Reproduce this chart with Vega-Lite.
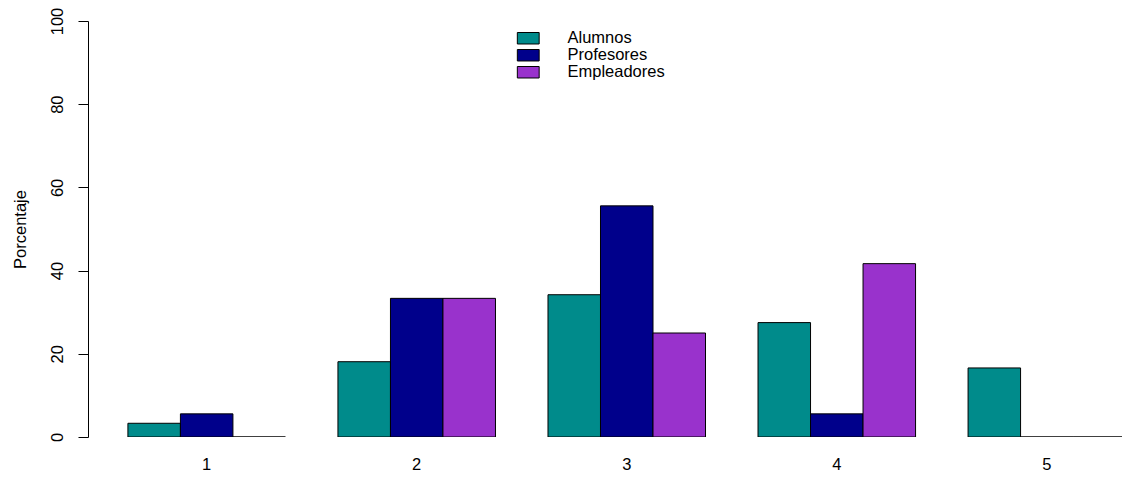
{
  "$schema": "https://vega.github.io/schema/vega-lite/v6.json",
  "width": 1034,
  "height": 416,
  "autosize": {"type": "none"},
  "padding": {"left": 88, "top": 21, "right": 0, "bottom": 47},
  "background": "white",
  "config": {
    "view": {"stroke": null},
    "font": "Liberation Sans",
    "axis": {"labelFont": "Liberation Sans", "titleFont": "Liberation Sans", "labelColor": "black", "titleColor": "black"},
    "legend": {"labelFont": "Liberation Sans"}
  },
  "data": {
    "values": [
      {"grupo": "1", "serie": "Alumnos", "porcentaje": 3.3},
      {"grupo": "1", "serie": "Profesores", "porcentaje": 5.56},
      {"grupo": "1", "serie": "Empleadores", "porcentaje": 0},
      {"grupo": "2", "serie": "Alumnos", "porcentaje": 18.1},
      {"grupo": "2", "serie": "Profesores", "porcentaje": 33.33},
      {"grupo": "2", "serie": "Empleadores", "porcentaje": 33.33},
      {"grupo": "3", "serie": "Alumnos", "porcentaje": 34.2},
      {"grupo": "3", "serie": "Profesores", "porcentaje": 55.56},
      {"grupo": "3", "serie": "Empleadores", "porcentaje": 25},
      {"grupo": "4", "serie": "Alumnos", "porcentaje": 27.5},
      {"grupo": "4", "serie": "Profesores", "porcentaje": 5.56},
      {"grupo": "4", "serie": "Empleadores", "porcentaje": 41.67},
      {"grupo": "5", "serie": "Alumnos", "porcentaje": 16.6},
      {"grupo": "5", "serie": "Profesores", "porcentaje": 0},
      {"grupo": "5", "serie": "Empleadores", "porcentaje": 0}
    ]
  },
  "mark": {"type": "bar", "stroke": "black", "strokeWidth": 1, "clip": true},
  "encoding": {
    "x": {
      "field": "grupo",
      "type": "nominal",
      "scale": {"paddingInner": 0.25, "paddingOuter": 0.19, "range": [0, 1077.5]},
      "axis": {"title": null, "labelAngle": 0, "domain": false, "ticks": false, "labelFontSize": 16.5, "labelPadding": 19}
    },
    "xOffset": {
      "field": "serie",
      "type": "nominal",
      "sort": ["Alumnos", "Profesores", "Empleadores"],
      "scale": {"paddingInner": 0, "paddingOuter": 0}
    },
    "y": {
      "field": "porcentaje",
      "type": "quantitative",
      "scale": {"domain": [0, 100], "nice": false},
      "axis": {
        "title": "Porcentaje",
        "values": [0, 20, 40, 60, 80, 100],
        "grid": false,
        "domainColor": "black",
        "tickColor": "black",
        "tickSize": 10,
        "labelAngle": 270,
        "labelAlign": "center",
        "labelBaseline": "bottom",
        "labelPadding": 13,
        "labelFontSize": 16.5,
        "labelFlush": false,
        "labelOverlap": false,
        "titleFontSize": 16.5,
        "titleFontWeight": "normal",
        "titleAngle": 270,
        "titleBaseline": "middle",
        "titleAlign": "center",
        "titleX": -68,
        "titleY": 208
      }
    },
    "color": {
      "field": "serie",
      "type": "nominal",
      "sort": ["Alumnos", "Profesores", "Empleadores"],
      "scale": {"domain": ["Alumnos", "Profesores", "Empleadores"], "range": ["#008B8B", "#00008B", "#9932CC"]},
      "legend": {
        "title": null,
        "orient": "none",
        "legendX": 432,
        "legendY": 9,
        "symbolType": "M-1.9,-1H1.9V1H-1.9Z",
        "symbolSize": 132,
        "symbolStrokeColor": "black",
        "symbolStrokeWidth": 1,
        "symbolOpacity": 1,
        "labelFontSize": 16.5,
        "labelOffset": 31,
        "labelColor": "black",
        "rowPadding": 0,
        "padding": 0
      }
    }
  }
}
